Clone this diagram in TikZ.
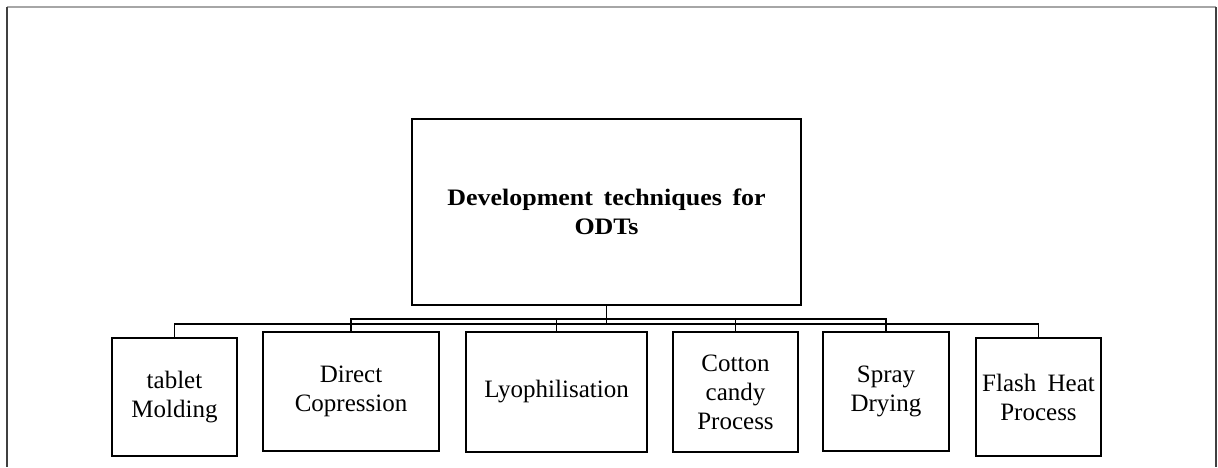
\documentclass[tikz,border=0pt]{standalone}
\usepackage{fontspec}
\setmainfont{Liberation Serif}
\newfontfamily\titlefont[FakeStretch=1.1]{Liberation Serif}
\begin{document}
\begin{tikzpicture}[x=0.5pt,y=-0.5pt,
  box/.style={draw=black,line width=0.95pt,inner sep=0pt,align=center,
    font=\fontsize{12.5}{14.5}\selectfont},
  link/.style={draw=black,line width=0.95pt}]
\useasboundingbox (0,0) rectangle (1218,467);
% outer frame
\draw[gray!70,line width=0.7pt] (7,7) -- (1216,7);
\draw[black!75,line width=0.6pt] (7,7) -- (7,467);
\draw[black!75,line width=0.6pt] (1216,7) -- (1216,467);
% boxes
\node[box,minimum width=194.5pt,minimum height=93pt,font=\titlefont\bfseries\fontsize{11.8}{14.5}\selectfont] (main) at (606.5,212) {Development\hspace{0.45em}techniques\hspace{0.45em}for\\ODTs};
\node[box,minimum width=62.5pt,minimum height=59pt] (tablet) at (174.5,397) {tablet\\Molding};
\node[box,minimum width=88pt,minimum height=59.5pt] (direct) at (351,391.5) {Direct\\Copression};
\node[box,minimum width=90.5pt,minimum height=60pt] (lyo) at (556.5,392) {Lyophilisation};
\node[box,minimum width=62.5pt,minimum height=60pt] (cotton) at (735.5,392) {Cotton\\candy\\Process};
\node[box,minimum width=63pt,minimum height=59.5pt] (spray) at (886,391.5) {Spray\\Drying};
\node[box,minimum width=62.5pt,minimum height=59pt] (flash) at (1038.5,397) {Flash\hspace{0.45em}Heat\\Process};
% bus coordinates
\coordinate (u) at (606.5,319);
\coordinate (l) at (606.5,324);
% connectors
\draw[link] (main.south) -- (main.south |- l);
\draw[link] (direct.north) -- (direct.north |- u) -| (spray.north);
\draw[link] (lyo.north) -- (lyo.north |- u);
\draw[link] (cotton.north) -- (cotton.north |- u);
\draw[link] (tablet.north) -- (tablet.north |- l) -| (flash.north);
\end{tikzpicture}
\end{document}
